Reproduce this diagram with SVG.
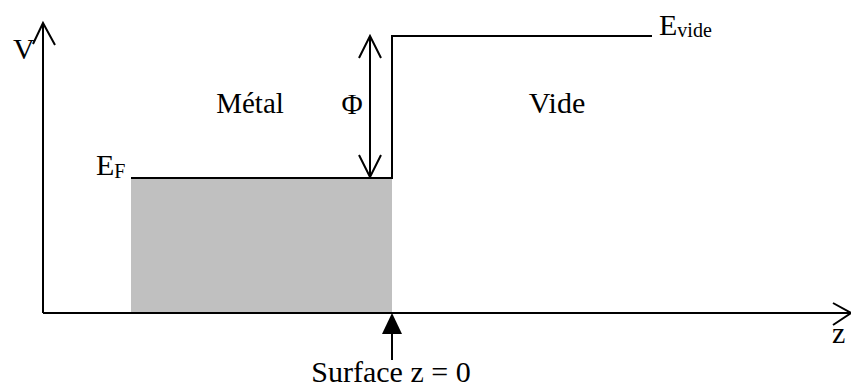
<svg xmlns="http://www.w3.org/2000/svg" width="851" height="390" viewBox="0 0 851 390">
<style>
.ln{stroke:#000;stroke-width:2;fill:none}
.t{font-family:"Liberation Serif","Times New Roman",serif;fill:#000}
</style>
<rect width="851" height="390" fill="#fff"/>
<g id="metal-fill"><rect x="131" y="178" width="261" height="135" fill="#C0C0C0"/></g>
<g id="connectors">
<path class="ln" d="M43,313 V23 M33,44 L43,23 L55,45"/>
<path class="ln" d="M43,313 H851 M833,303 L851,313 L833,325"/>
<path class="ln" d="M131,178 H392 V36 H652"/>
<path class="ln" d="M370,36 V177 M359,58 L370,36 L381,58 M359,155 L370,177 L381,155"/>
<path class="ln" d="M392,333 V360"/>
<polygon points="392,313 382,334 402,334" fill="#000"/>
</g>
<g id="labels" class="t">
<text class="t" x="13" y="59" font-size="30">V</text>
<text class="t" x="832" y="343" font-size="30">z</text>
<text class="t" x="96" y="175" font-size="30">E<tspan font-size="20" dy="3">F</tspan></text>
<text class="t" x="659" y="35" font-size="30">E<tspan font-size="20" dy="2">vide</tspan></text>
<text class="t" x="250" y="113" font-size="29" text-anchor="middle">Métal</text>
<text class="t" x="352" y="114" font-size="29" text-anchor="middle">Φ</text>
<text class="t" x="557" y="113" font-size="30" text-anchor="middle">Vide</text>
<text class="t" x="391" y="382" font-size="30" text-anchor="middle">Surface z = 0</text>
</g>
</svg>
